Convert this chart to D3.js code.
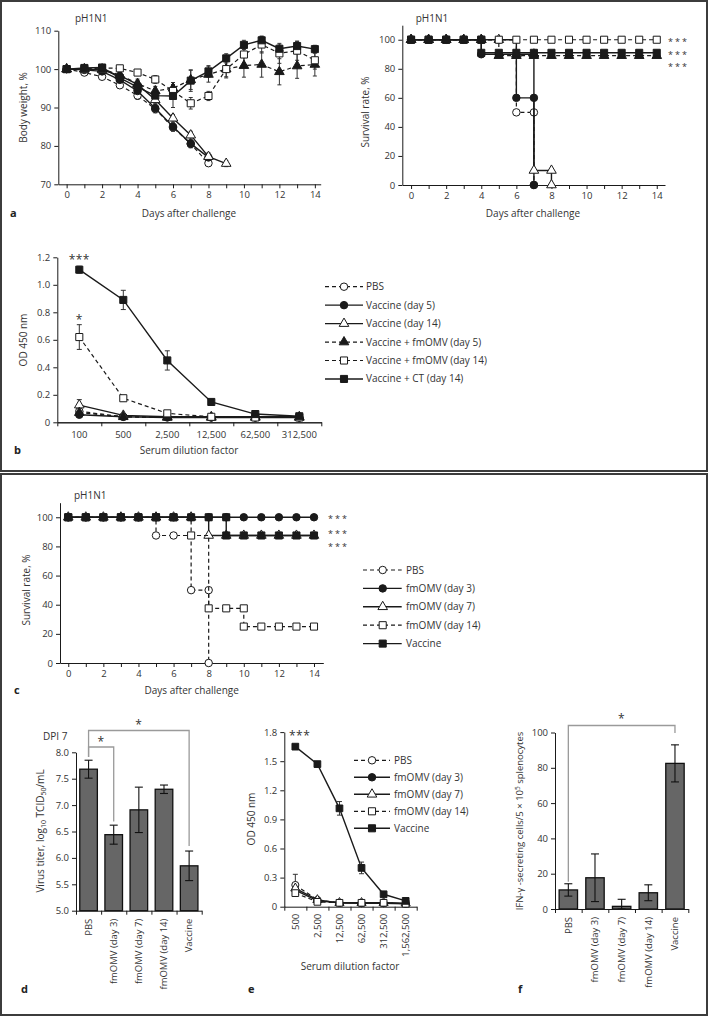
<!DOCTYPE html>
<html><head><meta charset="utf-8">
<script src="https://cdn.jsdelivr.net/npm/d3@7/dist/d3.min.js"></script>
<style>html,body{margin:0;padding:0;background:#fff;}svg{display:block;}</style>
</head><body>
<script>
// ================= DATA =================
// Panel a (left): body weight, %
const weightDays  = [0,1,2,3,4,5,6,7,8,9,10,11,12,13,14];
const weightTicks = [70,80,90,100,110];
const wPBS    = [100,99.1,98,95.8,93.1,89.6,84.8,80.5,75.5];
const wPBSsd  = [0.4,0.5,0.6,0.8,1,1,1,1,0.8];
const wVac5   = [100,99.8,99.4,97.2,94.3,89.8,85,80.6,77];
const wVac5sd = [0.4,0.5,0.6,0.8,1,1,1,1,1];
const wVac14  = [100,100,99.8,98.3,96,92,87.2,82.8,77.2,75.4];
const wVac14sd= [0.4,0.5,0.6,0.8,1,1,1,1,1,0.8];
const wFm5    = [100,100,100,98.5,96.2,94.3,95,97.2,98.6,100,100.9,101.2,99.3,100.8,101.2];
const wFm5sd  = [0.4,0.5,0.6,0.8,1.2,1.2,1.5,2.5,2,2,3,3.3,3.4,3.2,3];
const wFm14   = [100,100,100.3,100.2,99.1,97.3,94.3,91.1,93,100,103.8,106.4,104.1,104.8,102.3];
const wFm14sd = [0.4,0.5,0.6,0.6,0.8,1,1.5,1.5,1.2,2.3,2.4,2.2,2.6,2.5,2.3];
const wCT     = [100,100.3,100.4,97.7,95.3,93.1,93,97,99.4,102.8,106.3,107.5,105.3,106,105.2];
const wCTsd   = [0.4,0.5,0.6,0.8,1.2,1.5,3,2.8,1.5,1.2,1.2,1,1,1.2,1];

// Panel a (right): survival, %
const survTicks   = [0,20,40,60,80,100];
const sAPBSdays   = [0,1,2,3,4,5,6,7,7];
const sAPBS       = [100,100,100,100,100,100,50,50,0];
const sAVac5days  = [0,1,2,3,4,4,5,6,7,7];
const sAVac5      = [100,100,100,100,100,90,90,60,60,0];
const sAVac14days = [0,1,2,3,4,5,6,7,7,8,8];
const sAVac14     = [100,100,100,100,100,100,90,90,10,10,0];
const sAFm5days   = [0,1,2,3,4,5,6,7,8,9,10,11,12,13,14];
const sAFm5       = [100,100,100,100,100,89,89,89,89,89,89,89,89,89,89];
const sAFm14days  = [0,1,2,3,4,5,6,7,8,9,10,11,12,13,14];
const sAFm14      = [100,100,100,100,100,100,100,100,100,100,100,100,100,100,100];
const sACTdays    = [0,1,2,3,4,4,5,6,7,8,9,10,11,12,13,14];
const sACT        = [100,100,100,100,100,91,91,91,91,91,91,91,91,91,91,91];

// Panel b: OD 450 nm
const dilutionB = ["100","500","2,500","12,500","62,500","312,500"];
const odTicksB  = [0,0.2,0.4,0.6,0.8,1.0,1.2];
const odBPBS    = [0.08,0.04,0.04,0.035,0.035,0.035];
const odBPBSsd  = [0.01,0.005,0.005,0.005,0.005,0.005];
const odBVac5   = [0.055,0.04,0.035,0.035,0.035,0.035];
const odBVac5sd = [0.01,0.005,0.005,0.005,0.005,0.005];
const odBVac14  = [0.125,0.05,0.04,0.04,0.04,0.04];
const odBVac14sd= [0.04,0.01,0.005,0.005,0.005,0.005];
const odBFm5    = [0.07,0.04,0.035,0.035,0.035,0.035];
const odBFm5sd  = [0.01,0.005,0.005,0.005,0.005,0.005];
const odBFm14   = [0.62,0.175,0.065,0.04,0.035,0.035];
const odBFm14sd = [0.09,0.02,0.01,0.005,0.005,0.005];
const odBCT     = [1.11,0.89,0.45,0.148,0.06,0.044];
const odBCTsd   = [0.025,0.07,0.07,0.01,0.01,0.005];
const legendB   = ["PBS","Vaccine (day 5)","Vaccine (day 14)","Vaccine + fmOMV (day 5)","Vaccine + fmOMV (day 14)","Vaccine + CT (day 14)"];

// Panel c: survival, %
const sCPBSdays  = [0,1,2,3,4,5,6,7,8,8];
const sCPBS      = [100,100,100,100,100,87.5,87.5,50,50,0];
const sCFm3days  = [0,1,2,3,4,5,6,7,8,9,10,11,12,13,14];
const sCFm3      = [100,100,100,100,100,100,100,100,100,100,100,100,100,100,100];
const sCFm7days  = [0,1,2,3,4,5,6,7,8,9,10,11,12,13,14];
const sCFm7      = [100,100,100,100,100,100,100,100,87.5,87.5,87.5,87.5,87.5,87.5,87.5];
const sCFm14days = [0,1,2,3,4,5,6,7,8,9,10,10,11,12,13,14];
const sCFm14     = [100,100,100,100,100,100,100,87.5,37.5,37.5,37.5,25,25,25,25,25];
const sCVacDays  = [0,1,2,3,4,5,6,7,8,9,9,10,11,12,13,14];
const sCVac      = [100,100,100,100,100,100,100,100,100,100,87.5,87.5,87.5,87.5,87.5,87.5];
const legendC    = ["PBS","fmOMV (day 3)","fmOMV (day 7)","fmOMV (day 14)","Vaccine"];

// Panel d: virus titer (log10 TCID50/mL), DPI 7
const groupsD   = ["PBS","fmOMV (day 3)","fmOMV (day 7)","fmOMV (day 14)","Vaccine"];
const titerTicks= [5.0,5.5,6.0,6.5,7.0,7.5,8.0];
const titerD    = [7.68,6.44,6.91,7.30,5.85];
const titerSD   = [0.17,0.18,0.43,0.08,0.28];

// Panel e: OD 450 nm
const dilutionE = ["500","2,500","12,500","62,500","312,500","1,562,500"];
const odTicksE  = [0,0.3,0.6,0.9,1.2,1.5,1.8];
const odEPBS    = [0.224,0.07,0.04,0.04,0.04,0.03];
const odEPBSsd  = [0.11,0.01,0.005,0.005,0.005,0.005];
const odEFm3    = [0.17,0.06,0.04,0.035,0.035,0.03];
const odEFm3sd  = [0.02,0.01,0.005,0.005,0.005,0.005];
const odEFm7    = [0.19,0.07,0.04,0.04,0.04,0.035];
const odEFm7sd  = [0.03,0.01,0.005,0.005,0.005,0.005];
const odEFm14   = [0.14,0.05,0.04,0.04,0.04,0.03];
const odEFm14sd = [0.03,0.01,0.005,0.005,0.005,0.005];
const odEVac    = [1.65,1.47,1.014,0.40,0.128,0.06];
const odEVacsd  = [0.01,0.01,0.07,0.06,0.02,0.01];

// Panel f: IFN-γ secreting cells
const ifnTicks  = [0,20,40,60,80,100];
const ifnF      = [10.8,17.7,1.5,9.2,82.5];
const ifnSD     = [3.5,13.5,4,4.5,10.5];

// ================= DRAWING =================
const FONT = "'Open Sans', 'Noto Sans', sans-serif";
const INK = "#1a1a1a", TXT = "#333", GREY = "#9a9a9a", BAR = "#666";
const svg = d3.select("body").append("svg").attr("width",709).attr("height",1016)
  .attr("font-family",FONT);

const ST = {
  pbs:   {shape:"circle",  fill:false, dash:true},
  cFill: {shape:"circle",  fill:true,  dash:false},
  tOpen: {shape:"triangle",fill:false, dash:false},
  tFill: {shape:"triangle",fill:true,  dash:true},
  sOpen: {shape:"square",  fill:false, dash:true},
  sFill: {shape:"square",  fill:true,  dash:false}
};
const SYM  = {circle:d3.symbolCircle, triangle:d3.symbolTriangle, square:d3.symbolSquare};
const AREA = {circle:44, triangle:40, square:50};

function markers(g, pts, st, k=1){
  g.selectAll(null).data(pts).join("path")
    .attr("transform", p=>`translate(${p[0]},${p[1]})`)
    .attr("d", d3.symbol(SYM[st.shape], AREA[st.shape]*k)())
    .attr("fill", st.fill ? INK : "#fff").attr("stroke", INK).attr("stroke-width",1);
}
function line(g, pts, st, curve){
  g.append("path").attr("d", d3.line().curve(curve||d3.curveLinear)(pts))
    .attr("fill","none").attr("stroke",INK)
    .attr("stroke-width", st.dash?1.2:1.4)
    .attr("stroke-dasharray", st.dash?"4,3":null);
}
function errbar(g, x, ya, yb, cap, col, w){
  g.append("line").attr("x1",x).attr("x2",x).attr("y1",ya).attr("y2",yb).attr("stroke",col).attr("stroke-width",w||1);
  [ya,yb].forEach(yy=>g.append("line").attr("x1",x-cap/2).attr("x2",x+cap/2).attr("y1",yy).attr("y2",yy).attr("stroke",col).attr("stroke-width",w||1));
}
function axisStyle(g, size){
  g.attr("font-family",FONT).attr("font-size",size||9.5);
  g.select(".domain").attr("stroke",INK).attr("stroke-width",1);
  g.selectAll(".tick line").attr("stroke",INK);
  g.selectAll(".tick text").attr("fill",TXT);
}
function text(x,y,s,o){
  o=o||{};
  return svg.append("text").attr("x",x).attr("y",y).text(s)
    .attr("font-size",o.size||10).attr("fill",o.fill||TXT)
    .attr("text-anchor",o.anchor||"start").attr("font-weight",o.weight||null)
    .attr("letter-spacing",o.ls||null);
}
function vtext(x,y,s,size){
  return svg.append("text").attr("transform",`translate(${x},${y}) rotate(-90)`)
    .attr("text-anchor","middle").attr("dy","0.35em").attr("font-size",size||10).attr("fill",TXT).text(s);
}
function stars(x,y,s,anchor){ return text(x,y,s,{size:12,anchor:anchor||"start",ls:0.5}); }
// stacked significance rows (compact font so rows do not collide)
function starRows(x, ys){ ys.forEach(yy=>text(x,yy,"***",{size:9,ls:2})); }

// frames
svg.append("rect").attr("x",1).attr("y",1).attr("width",706).attr("height",470)
  .attr("fill","none").attr("stroke","#3c3c3c").attr("stroke-width",2);
svg.append("rect").attr("x",1).attr("y",474).attr("width",706).attr("height",541)
  .attr("fill","none").attr("stroke","#3c3c3c").attr("stroke-width",2);

// ---------- Panel a: body weight ----------
(function(){
  const x = d3.scaleLinear().domain([-0.47,14.33]).range([58.3,320.7]);
  const y = d3.scaleLinear().domain([70,110]).range([184.3,30.7]);
  const g = svg.append("g");
  g.append("g").attr("transform",`translate(0,${y(70)})`)
    .call(d3.axisBottom(x).tickValues(weightDays).tickFormat(d=>d%2?"":d).tickSize(4).tickSizeOuter(0))
    .call(axisStyle);
  g.append("g").attr("transform",`translate(${x.range()[0]},0)`)
    .call(d3.axisLeft(y).tickValues(weightTicks).tickSize(4).tickSizeOuter(0))
    .call(axisStyle);
  const series = [
    {v:wPBS,e:wPBSsd,st:ST.pbs},{v:wVac5,e:wVac5sd,st:ST.cFill},{v:wVac14,e:wVac14sd,st:ST.tOpen},
    {v:wFm5,e:wFm5sd,st:ST.tFill},{v:wFm14,e:wFm14sd,st:ST.sOpen},{v:wCT,e:wCTsd,st:ST.sFill}];
  const pl = g.append("g");
  series.forEach(s=>s.v.forEach((v,i)=>errbar(pl,x(weightDays[i]),y(v-s.e[i]),y(v+s.e[i]),4,"#333")));
  series.forEach(s=>{
    const pts = s.v.map((v,i)=>[x(weightDays[i]),y(v)]);
    line(pl,pts,s.st); markers(pl,pts,s.st);
  });
  text(75,22,"pH1N1");
  vtext(23,107.5,"Body weight, %");
  text(189,216.5,"Days after challenge",{anchor:"middle"});
  text(10,217,"a",{size:11,weight:"bold",fill:"#222"});
})();

// ---------- Panel a: survival ----------
(function(){
  const x = d3.scaleLinear().domain([-0.5,14.47]).range([402.3,665]);
  const y = d3.scaleLinear().domain([0,110]).range([185,25.2]);
  const g = svg.append("g");
  g.append("g").attr("transform",`translate(0,${y(0)})`)
    .call(d3.axisBottom(x).tickValues(weightDays).tickFormat(d=>d%2?"":d).tickSize(4).tickSizeOuter(0))
    .call(axisStyle);
  g.append("g").attr("transform",`translate(${x.range()[0]},0)`)
    .call(d3.axisLeft(y).tickValues(survTicks).tickSize(4).tickSizeOuter(0))
    .call(axisStyle);
  const series = [
    {d:sAPBSdays,v:sAPBS,st:ST.pbs},{d:sAVac5days,v:sAVac5,st:ST.cFill},{d:sAVac14days,v:sAVac14,st:ST.tOpen},
    {d:sAFm5days,v:sAFm5,st:ST.tFill},{d:sAFm14days,v:sAFm14,st:ST.sOpen},{d:sACTdays,v:sACT,st:ST.sFill}];
  series.forEach(s=>{
    const pts = s.v.map((v,i)=>[x(s.d[i]),y(v)]);
    line(g,pts,s.st,d3.curveStepAfter); markers(g,pts,s.st);
  });
  starRows(668,[45.2,57.8,70.3]);
  text(415.7,22,"pH1N1");
  vtext(365,112,"Survival rate, %");
  text(533,216.5,"Days after challenge",{anchor:"middle"});
})();

// ---------- Panel b: OD ----------
(function(){
  const x = d3.scaleBand().domain(dilutionB).range([57.3,321.3]);
  const xe = d3.scaleLinear().domain([0,dilutionB.length]).range(x.range());
  const y = d3.scaleLinear().domain([0,1.2]).range([422.3,257.3]);
  const cx = c=>x(c)+x.bandwidth()/2;
  const g = svg.append("g");
  g.append("g").attr("transform",`translate(0,${y(0)})`)
    .call(d3.axisBottom(x).tickSize(0).tickPadding(9)).call(axisStyle);
  g.append("g").attr("transform",`translate(0,${y(0)})`)
    .call(d3.axisBottom(xe).tickValues(d3.range(dilutionB.length+1)).tickFormat("").tickSize(4).tickSizeOuter(0)).call(axisStyle);
  g.append("g").attr("transform",`translate(${x.range()[0]},0)`)
    .call(d3.axisLeft(y).tickValues(odTicksB).tickFormat(d=>d===0?"0":d3.format(".1f")(d)).tickSize(4).tickSizeOuter(0))
    .call(axisStyle);
  const series = [
    {v:odBPBS,e:odBPBSsd,st:ST.pbs},{v:odBVac5,e:odBVac5sd,st:ST.cFill},{v:odBVac14,e:odBVac14sd,st:ST.tOpen},
    {v:odBFm5,e:odBFm5sd,st:ST.tFill},{v:odBFm14,e:odBFm14sd,st:ST.sOpen},{v:odBCT,e:odBCTsd,st:ST.sFill}];
  series.forEach(s=>s.v.forEach((v,i)=>errbar(g,cx(dilutionB[i]),y(v-s.e[i]),y(v+s.e[i]),5,"#333")));
  series.forEach(s=>{
    const pts = s.v.map((v,i)=>[cx(dilutionB[i]),y(v)]);
    line(g,pts,s.st); markers(g,pts,s.st);
  });
  stars(cx(dilutionB[0]),263.5,"***","middle");
  stars(cx(dilutionB[0]),323.5,"*","middle");
  vtext(23,340,"OD 450 nm");
  text(189,453.5,"Serum dilution factor",{anchor:"middle"});
  text(14,454,"b",{size:11,weight:"bold",fill:"#222"});
  const lst = [ST.pbs,ST.cFill,ST.tOpen,ST.tFill,ST.sOpen,ST.sFill];
  legendB.forEach((lab,i)=>{
    const yy = 286.7 + i*18.45;
    line(svg,[[325,yy],[363,yy]],lst[i]);
    markers(svg,[[344,yy]],lst[i]);
    text(366,yy,lab).attr("dy","0.35em");
  });
})();

// ---------- Panel c: survival ----------
(function(){
  const x = d3.scaleLinear().domain([-0.47,14.53]).range([60,323.3]);
  const y = d3.scaleLinear().domain([0,110]).range([663,502.7]);
  const g = svg.append("g");
  g.append("g").attr("transform",`translate(0,${y(0)})`)
    .call(d3.axisBottom(x).tickValues(weightDays).tickFormat(d=>d%2?"":d).tickSize(4).tickSizeOuter(0))
    .call(axisStyle);
  g.append("g").attr("transform",`translate(${x.range()[0]},0)`)
    .call(d3.axisLeft(y).tickValues(survTicks).tickSize(4).tickSizeOuter(0))
    .call(axisStyle);
  const series = [
    {d:sCPBSdays,v:sCPBS,st:ST.pbs},{d:sCFm3days,v:sCFm3,st:ST.cFill},{d:sCFm7days,v:sCFm7,st:ST.tOpen},
    {d:sCFm14days,v:sCFm14,st:ST.sOpen},{d:sCVacDays,v:sCVac,st:ST.sFill}];
  series.forEach(s=>{
    const pts = s.v.map((v,i)=>[x(s.d[i]),y(v)]);
    line(g,pts,s.st,d3.curveStepAfter); markers(g,pts,s.st);
  });
  starRows(328,[522.3,537.3,549.8]);
  text(74,499,"pH1N1");
  vtext(26.7,590,"Survival rate, %");
  text(191.7,693.5,"Days after challenge",{anchor:"middle"});
  text(14,694,"c",{size:11,weight:"bold",fill:"#222"});
  const lst = [ST.pbs,ST.cFill,ST.tOpen,ST.sOpen,ST.sFill];
  legendC.forEach((lab,i)=>{
    const yy = 570 + i*18.4;
    line(svg,[[363,yy],[401.7,yy]],lst[i]);
    markers(svg,[[382.7,yy]],lst[i]);
    text(406,yy,lab).attr("dy","0.35em");
  });
})();

// ---------- Panel d: virus titer ----------
(function(){
  const x = d3.scaleBand().domain(groupsD).range([76,201.7]).paddingInner(0.3).paddingOuter(0.15);
  const xe = d3.scaleLinear().domain([0,groupsD.length]).range(x.range());
  const y = d3.scaleLinear().domain([5,8]).range([910.7,752.3]);
  const cx = c=>x(c)+x.bandwidth()/2;
  const g = svg.append("g");
  const br = (x1,x2,top,b1,b2)=>g.append("path")
    .attr("d",`M${x1},${b1}V${top}H${x2}V${b2}`).attr("fill","none").attr("stroke",GREY).attr("stroke-width",1.3);
  br(cx(groupsD[0]),cx(groupsD[4]),730.5,757,846);
  br(cx(groupsD[0]),cx(groupsD[1]),747,757,821.5);
  g.selectAll(null).data(groupsD).join("rect")
    .attr("x",d=>x(d)).attr("width",x.bandwidth())
    .attr("y",(d,i)=>y(titerD[i])).attr("height",(d,i)=>y(5)-y(titerD[i]))
    .attr("fill",BAR).attr("stroke","#111").attr("stroke-width",1.3);
  titerD.forEach((v,i)=>errbar(g,cx(groupsD[i]),y(v-titerSD[i]),y(v+titerSD[i]),8,"#111",1.1));
  g.append("g").attr("transform",`translate(0,${y(5)})`)
    .call(d3.axisBottom(xe).tickValues(d3.range(groupsD.length+1)).tickFormat("").tickSize(4).tickSizeOuter(0)).call(axisStyle);
  g.append("g").attr("transform",`translate(${x.range()[0]},0)`)
    .call(d3.axisLeft(y).tickValues(titerTicks).tickFormat(d3.format(".1f")).tickSize(4).tickSizeOuter(0))
    .call(axisStyle);
  groupsD.forEach(c=>svg.append("text").attr("transform",`translate(${cx(c)},${y(5)+8}) rotate(-90)`)
    .attr("text-anchor","end").attr("dy","0.35em").attr("font-size",9.5).attr("fill",TXT).text(c));
  stars(cx(groupsD[2]),729,"*","middle");
  stars((cx(groupsD[0])+cx(groupsD[1]))/2,745.5,"*","middle");
  text(43,739.5,"DPI 7");
  const t = svg.append("text").attr("transform","translate(40,831) rotate(-90)")
    .attr("text-anchor","middle").attr("dy","0.35em").attr("font-size",10).attr("fill",TXT);
  t.append("tspan").text("Virus titer, log");
  t.append("tspan").attr("font-size",7).attr("dy",2).text("10");
  t.append("tspan").attr("dy",-2).text(" TCID");
  t.append("tspan").attr("font-size",7).attr("dy",2).text("50");
  t.append("tspan").attr("dy",-2).text("/mL");
  text(21,993,"d",{size:11,weight:"bold",fill:"#222"});
})();

// ---------- Panel e: OD ----------
(function(){
  const x = d3.scaleBand().domain(dilutionE).range([284.3,416.7]);
  const xe = d3.scaleLinear().domain([0,dilutionE.length]).range(x.range());
  const y = d3.scaleLinear().domain([0,1.8]).range([906.7,732.1]);
  const cx = c=>x(c)+x.bandwidth()/2;
  const g = svg.append("g");
  g.append("g").attr("transform",`translate(0,${y(0)})`)
    .call(d3.axisBottom(xe).tickValues(d3.range(dilutionE.length+1)).tickFormat("").tickSize(4).tickSizeOuter(0)).call(axisStyle);
  g.append("g").attr("transform",`translate(${x.range()[0]},0)`)
    .call(d3.axisLeft(y).tickValues(odTicksE).tickFormat(d=>d===0?"0":d3.format(".1f")(d)).tickSize(4).tickSizeOuter(0))
    .call(axisStyle);
  dilutionE.forEach(c=>svg.append("text").attr("transform",`translate(${cx(c)},${y(0)+7}) rotate(-90)`)
    .attr("text-anchor","end").attr("dy","0.35em").attr("font-size",9.5).attr("fill",TXT).text(c));
  const series = [
    {v:odEPBS,e:odEPBSsd,st:ST.pbs},{v:odEFm3,e:odEFm3sd,st:ST.cFill},{v:odEFm7,e:odEFm7sd,st:ST.tOpen},
    {v:odEFm14,e:odEFm14sd,st:ST.sOpen},{v:odEVac,e:odEVacsd,st:ST.sFill}];
  series.forEach(s=>s.v.forEach((v,i)=>errbar(g,cx(dilutionE[i]),y(v-s.e[i]),y(v+s.e[i]),5,"#333")));
  series.forEach(s=>{
    const pts = s.v.map((v,i)=>[cx(dilutionE[i]),y(v)]);
    line(g,pts,s.st); markers(g,pts,s.st,0.9);
  });
  stars(289,739.5,"***");
  vtext(251,819,"OD 450 nm");
  text(350,970,"Serum dilution factor",{anchor:"middle"});
  text(248,993,"e",{size:11,weight:"bold",fill:"#222"});
  const lst = [ST.pbs,ST.cFill,ST.tOpen,ST.sOpen,ST.sFill];
  legendC.forEach((lab,i)=>{
    const yy = 760.3 + i*17;
    line(svg,[[354,yy],[390,yy]],lst[i]);
    markers(svg,[[372,yy]],lst[i]);
    text(394,yy,lab).attr("dy","0.35em");
  });
})();

// ---------- Panel f: IFN-γ ----------
(function(){
  const x = d3.scaleBand().domain(groupsD).range([555,688.3]).paddingInner(0.31).paddingOuter(0.155);
  const xe = d3.scaleLinear().domain([0,groupsD.length]).range(x.range());
  const y = d3.scaleLinear().domain([0,100]).range([909,732.5]);
  const cx = c=>x(c)+x.bandwidth()/2;
  const g = svg.append("g");
  g.append("path").attr("d",`M${cx(groupsD[0])},${y(ifnF[0]+ifnSD[0])-2}V725.5H${cx(groupsD[4])}V733`)
    .attr("fill","none").attr("stroke",GREY).attr("stroke-width",1.3);
  g.selectAll(null).data(groupsD).join("rect")
    .attr("x",d=>x(d)).attr("width",x.bandwidth())
    .attr("y",(d,i)=>y(ifnF[i])).attr("height",(d,i)=>y(0)-y(ifnF[i]))
    .attr("fill",BAR).attr("stroke","#111").attr("stroke-width",1.3);
  ifnF.forEach((v,i)=>errbar(g,cx(groupsD[i]),y(Math.max(0,v-ifnSD[i])),y(v+ifnSD[i]),8,"#111",1.1));
  g.append("g").attr("transform",`translate(0,${y(0)})`)
    .call(d3.axisBottom(xe).tickValues(d3.range(groupsD.length+1)).tickFormat("").tickSize(4).tickSizeOuter(0)).call(axisStyle);
  g.append("g").attr("transform",`translate(${x.range()[0]},0)`)
    .call(d3.axisLeft(y).tickValues(ifnTicks).tickSize(4).tickSizeOuter(0))
    .call(axisStyle);
  groupsD.forEach(c=>svg.append("text").attr("transform",`translate(${cx(c)},${y(0)+8}) rotate(-90)`)
    .attr("text-anchor","end").attr("dy","0.35em").attr("font-size",9.5).attr("fill",TXT).text(c));
  stars((cx(groupsD[0])+cx(groupsD[4]))/2,723,"*","middle");
  const t = svg.append("text").attr("transform","translate(520,821) rotate(-90)")
    .attr("text-anchor","middle").attr("dy","0.35em").attr("font-size",9.5).attr("fill",TXT);
  t.append("tspan").text("IFN-γ -secreting cells/5 × 10");
  t.append("tspan").attr("font-size",6.5).attr("dy",-3.5).text("5");
  t.append("tspan").attr("dy",3.5).text(" splenocytes");
  text(518,993,"f",{size:11,weight:"bold",fill:"#222"});
})();
</script>
</body></html>
